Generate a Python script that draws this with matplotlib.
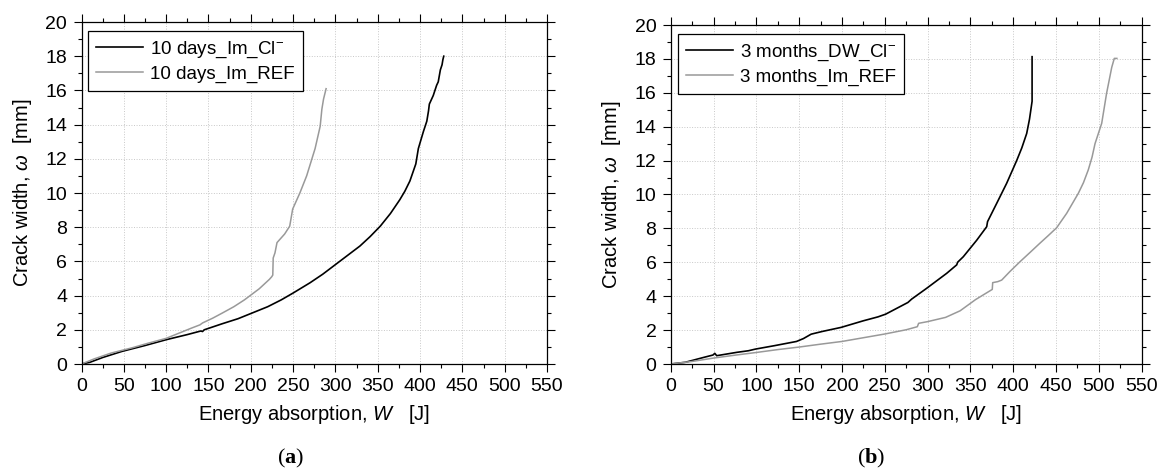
import matplotlib
matplotlib.use("Agg")
import matplotlib.pyplot as plt
from matplotlib.ticker import MultipleLocator

# ---------------- data ----------------
# (a) 10 days
a_cl_W = [0, 10, 25, 48, 75, 100, 125, 141, 143, 145, 166, 185, 201, 220, 236, 250, 270, 285, 297, 313,
          329, 341, 353, 365, 376, 382, 388, 395, 396, 398, 404, 408, 410, 411, 415.6, 419.6, 421.5,
          424, 426, 427, 428]
a_cl_w = [0, 0.1, 0.38, 0.74, 1.08, 1.42, 1.72, 1.93, 1.90, 2.0, 2.35, 2.65, 2.97, 3.35, 3.75, 4.15, 4.75,
          5.25, 5.7, 6.3, 6.9, 7.45, 8.06, 8.8, 9.6, 10.1, 10.7, 11.7, 12.0, 12.6, 13.6, 14.2, 14.8, 15.2,
          15.7, 16.3, 16.5, 17.2, 17.5, 17.8, 18.0]

a_ref_W = [0, 15, 35, 60, 79, 100, 118, 130, 140, 143, 155, 166, 180, 192.5, 210, 222, 224.7, 226, 226.5,
           228.6, 231, 240, 246, 249.5, 258, 266, 271, 276, 279, 282, 284, 286, 289]
a_ref_w = [0, 0.3, 0.64, 0.95, 1.22, 1.5, 1.86, 2.1, 2.29, 2.4, 2.68, 2.97, 3.35, 3.75, 4.4, 4.95, 5.1,
           5.2, 6.2, 6.5, 7.1, 7.6, 8.06, 9.06, 10.0, 11.0, 11.8, 12.6, 13.25, 13.9, 14.9, 15.5, 16.1]

# (b) 3 months
b_cl_W = [0, 17, 38.6, 49.4, 51.5, 53.7, 77.5, 90.6, 99, 121, 146.9, 155, 164, 177, 199, 225, 242,
          251, 277, 281.4, 299, 322.3, 334, 335, 341.7, 357.3, 369, 370, 380.7, 392.3, 404, 410,
          415.7, 419, 422, 422]
b_cl_w = [0, 0.1, 0.39, 0.53, 0.63, 0.49, 0.69, 0.78, 0.88, 1.08, 1.33, 1.5, 1.76, 1.92, 2.16, 2.55, 2.78,
          2.94, 3.63, 3.83, 4.47, 5.35, 5.85, 6.0, 6.33, 7.3, 8.1, 8.4, 9.48, 10.66, 12.0, 12.75,
          13.6, 14.45, 15.5, 18.13]

b_ref_W = [0, 25, 50, 75, 100, 125, 150, 175, 200, 225, 250, 275, 288, 289.5, 300, 321, 338, 356,
           375.5, 376, 382, 386.5, 396, 408, 420, 431, 441, 450.7, 462.4, 476, 482, 487.6, 492, 495.5,
           503.3, 509, 515, 518, 521]
b_ref_w = [0, 0.15, 0.35, 0.52, 0.68, 0.85, 1.0, 1.17, 1.33, 1.55, 1.77, 2.02, 2.2, 2.4, 2.5, 2.75, 3.14,
           3.8, 4.4, 4.8, 4.86, 4.95, 5.45, 6.04, 6.6, 7.12, 7.58, 8.04, 8.89, 10.07, 10.7, 11.45, 12.2,
           13.0, 14.2, 15.97, 17.5, 18.03, 18.03]

labels_a = ["10 days_Im_Cl$^{-}$", "10 days_Im_REF"]
labels_b = ["3 months_DW_Cl$^{-}$", "3 months_Im_REF"]
x_ticks = list(range(0, 551, 50))
y_ticks = list(range(0, 21, 2))

# ---------------- style ----------------
plt.rcParams['font.family'] = ['Liberation Sans', 'DejaVu Sans']
plt.rcParams['mathtext.fontset'] = 'custom'
plt.rcParams['mathtext.rm'] = 'Liberation Sans'
plt.rcParams['mathtext.it'] = 'Liberation Sans:italic'
plt.rcParams['mathtext.bf'] = 'Liberation Serif:bold'

W, H = 1162, 473
fig = plt.figure(figsize=(W / 100, H / 100), dpi=100)

def px_rect(x0, x1, ytop, ybot):
    return [x0 / W, 1 - ybot / H, (x1 - x0) / W, (ybot - ytop) / H]

axA = fig.add_axes(px_rect(81.5, 547, 22, 364))
axB = fig.add_axes(px_rect(670.7, 1141.7, 25, 364))

BLACK = '#000000'
GRAY = '#999999'

def style(ax):
    ax.set_xlim(0, 550)
    ax.set_ylim(0, 20)
    ax.set_xticks(x_ticks)
    ax.set_yticks(y_ticks)
    ax.xaxis.set_minor_locator(MultipleLocator(25))
    ax.yaxis.set_minor_locator(MultipleLocator(1))
    ax.tick_params(which='both', direction='out', top=True, right=True, width=0.8,
                   labelsize=14, colors='black')
    ax.tick_params(which='major', length=5.8)
    ax.tick_params(which='minor', length=3.0)
    ax.tick_params(axis='x', pad=4)
    ax.tick_params(axis='y', pad=4.5)
    for s in ax.spines.values():
        s.set_linewidth(0.9)
    ax.grid(True, which='major', color='#c8c8c8', linestyle=':', linewidth=0.7)
    ax.set_axisbelow(True)

style(axA)
style(axB)

axA.plot(a_cl_W, a_cl_w, color=BLACK, lw=1.2, label=labels_a[0])
axA.plot(a_ref_W, a_ref_w, color=GRAY, lw=1.1, label=labels_a[1])
axB.plot(b_cl_W, b_cl_w, color=BLACK, lw=1.2, label=labels_b[0])
axB.plot(b_ref_W, b_ref_w, color=GRAY, lw=1.1, label=labels_b[1])

leg_kw = dict(loc='upper left', borderaxespad=0, fancybox=False, framealpha=1,
              edgecolor='black', fontsize=13.5, handlelength=2.5, handletextpad=0.35,
              labelspacing=0.3, borderpad=0.45)
lA = axA.legend(bbox_to_anchor=((88 - 81.5) / 465.5, (364 - 31) / 342), **leg_kw)
lB = axB.legend(bbox_to_anchor=((678 - 670.7) / 471, (364 - 34) / 339), **leg_kw)
for l in (lA, lB):
    l.get_frame().set_linewidth(0.9)

# axis labels
def ftext(x, y, s, **kw):
    fig.text(x / W, 1 - y / H, s, **kw)

xl = "Energy absorption, $W$   [J]"
yl = "Crack width, $\\omega$  [mm]"
ftext(314.2, 414, xl, ha='center', va='center', fontsize=14.5)
ftext(906.2, 414, xl, ha='center', va='center', fontsize=14.5)
ftext(22.6, 193, yl, ha='center', va='center', rotation=90, fontsize=14.5)
ftext(611.5, 194.5, yl, ha='center', va='center', rotation=90, fontsize=14.5)

ftext(290.5, 458, "($\\mathbf{a}$)", ha='center', va='center', fontsize=16, family='Liberation Serif')
ftext(871.5, 458, "($\\mathbf{b}$)", ha='center', va='center', fontsize=16, family='Liberation Serif')

fig.savefig('out.png', dpi=100)
